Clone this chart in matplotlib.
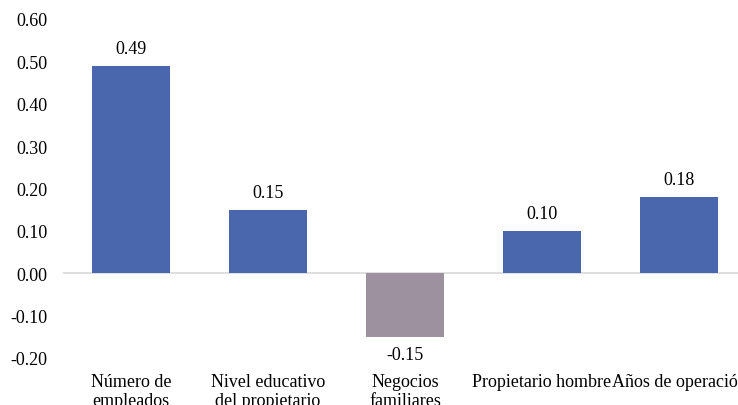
import numpy as np
import matplotlib.pyplot as plt

plt.rcParams['font.family'] = ['Liberation Serif', 'DejaVu Serif']
plt.rcParams['axes.unicode_minus'] = False

# Efectos estimados por variable
categorias = ['Número de\nempleados', 'Nivel educativo\ndel propietario',
              'Negocios\nfamiliares', 'Propietario hombre', 'Años de operación']
valores = [0.49, 0.15, -0.15, 0.10, 0.18]
etiquetas = ['0.49', '0.15', '-0.15', '0.10', '0.18']
colores = ['#4A66AC', '#4A66AC', '#9E919F', '#4A66AC', '#4A66AC']

fs = 13

fig = plt.figure(figsize=(7.38, 4.06), dpi=100)
ax = fig.add_axes([62.5 / 738, 1 - 358.7 / 406, 685 / 738, (358.7 - 20) / 406])

x = np.arange(len(categorias))
barras = ax.bar(x, valores, width=0.57, color=colores, zorder=2)

# Línea de referencia en cero
ax.axhline(0, color='#D9D9D9', linewidth=1.2, zorder=1)

for xi, v, t in zip(x, valores, etiquetas):
    if v >= 0:
        ax.annotate(t, (xi, v), xytext=(0, 6), textcoords='offset points',
                    ha='center', va='bottom', fontsize=fs)
    else:
        ax.annotate(t, (xi, v), xytext=(0, -7), textcoords='offset points',
                    ha='center', va='top', fontsize=fs)

ax.set_xlim(-0.5, len(categorias) - 0.5)
ax.set_ylim(-0.2, 0.6)
ax.set_yticks(np.arange(-0.2, 0.61, 0.1))
ax.set_yticklabels([f'{t:.2f}' for t in np.arange(-0.2, 0.61, 0.1)], fontsize=fs)
ax.set_xticks(x)
ax.set_xticklabels(categorias, fontsize=fs, linespacing=1.15)
ax.tick_params(axis='x', length=0, pad=11)
ax.tick_params(axis='y', length=0, pad=11)
for s in ax.spines.values():
    s.set_visible(False)

fig.savefig('out.png', dpi=100)
